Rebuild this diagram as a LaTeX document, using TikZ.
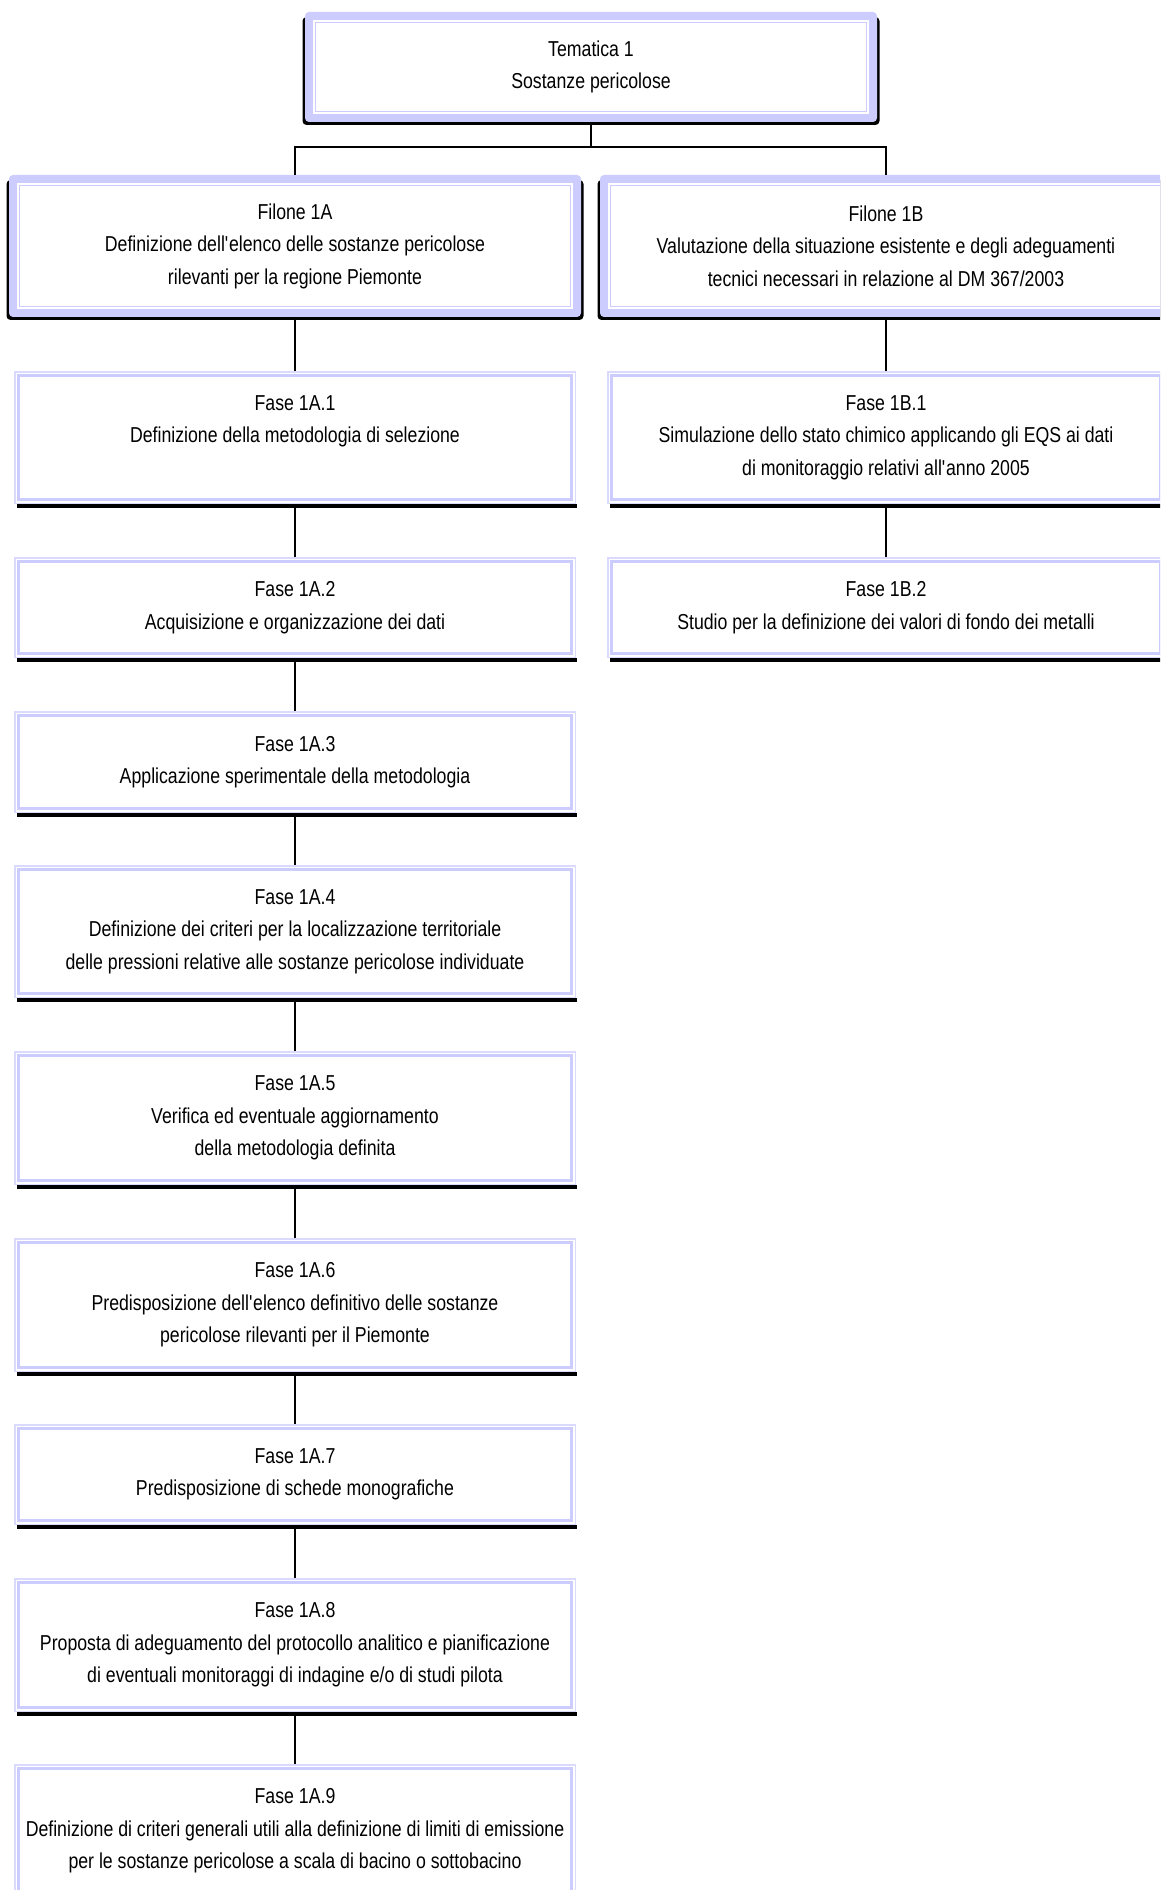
\documentclass[tikz,border=0pt]{standalone}
\usepackage{fontspec}
\setmainfont{Liberation Sans}[FakeStretch=0.82]
\definecolor{lav}{HTML}{CCCCFF}
\definecolor{lavl}{HTML}{DADAFF}
\newcommand\ap{\textquotesingle}
\tikzset{
  txt/.style={align=center, inner sep=0pt, font=\fontsize{16.2pt}{24.4pt}\selectfont},
  conn/.style={draw=black, line width=1pt},
  boxshape/.style={rectangle, inner sep=0pt, outer sep=0pt},
}
% name x1 y1 x2 y2 textshift text
\newcommand\fasebox[7]{%
  \fill[black] (#2+3,#5) rectangle (#4+1,#5+4);
  \fill[lavl] (#2,#3) rectangle (#4,#5);
  \fill[white] (#2+1.5,#3+1.5) rectangle (#4-1.5,#5-1.5);
  \fill[lav] (#2+3,#3+3) rectangle (#4-3,#5-3);
  \fill[white] (#2+6,#3+6) rectangle (#4-6,#5-6);
  \node[boxshape, minimum width={(#4-#2)*0.75pt}, minimum height={(#5-#3)*0.75pt}] (#1) at ({(#2+#4)/2},{(#3+#5)/2}) {};
  \node[txt] (#1-t) at ({(#2+#4)/2},{(#3+#5)/2+(#6)}) {#7};
}
% name x1 y1 x2 y2 text
\newcommand\filbox[6]{%
  \fill[black, rounded corners=3pt] (#2-2.5,#3+5) rectangle (#4+2.5,#5+3);
  \fill[lav, rounded corners=3pt] (#2,#3) rectangle (#4,#5);
  \fill[white] (#2+8,#3+8) rectangle (#4-8,#5-8);
  \draw[lav, line width=1.3pt] (#2+10.5,#3+10.5) rectangle (#4-10.5,#5-10.5);
  \node[boxshape, minimum width={(#4-#2)*0.75pt}, minimum height={(#5-#3)*0.75pt}] (#1) at ({(#2+#4)/2},{(#3+#5)/2}) {};
  \node[txt] (#1-t) at ({(#2+#4)/2},{(#3+#5)/2}) {#6};
}
\begin{document}
\begin{tikzpicture}[x=0.75pt,y=-0.75pt]
\useasboundingbox (0,0) rectangle (1160,1890);
\clip (0,0) rectangle (1160,1890);
\fill[white] (0,0) rectangle (1160,1890);

\filbox{top}{305}{12}{877}{122}{Tematica 1\\Sostanze pericolose}
\filbox{f1a}{9}{175}{581}{317}{Filone 1A\\Definizione dell\ap elenco delle sostanze pericolose\\rilevanti per la regione Piemonte}
\filbox{f1b}{600}{175}{1172}{317}{Filone 1B\\Valutazione della situazione esistente e degli adeguamenti\\tecnici necessari in relazione al DM 367/2003}

\fasebox{a1}{14}{371}{576}{504}{-16}{Fase 1A.1\\Definizione della metodologia di selezione}
\fasebox{b1}{607}{371}{1165}{504}{0}{Fase 1B.1\\Simulazione dello stato chimico applicando gli EQS ai dati\\di monitoraggio relativi all\ap anno 2005}
\fasebox{a2}{14}{557}{576}{658}{0}{Fase 1A.2\\Acquisizione e organizzazione dei dati}
\fasebox{b2}{607}{557}{1165}{658}{0}{Fase 1B.2\\Studio per la definizione dei valori di fondo dei metalli}
\fasebox{a3}{14}{711}{576}{813}{0}{Fase 1A.3\\Applicazione sperimentale della metodologia}
\fasebox{a4}{14}{865}{576}{998}{0}{Fase 1A.4\\Definizione dei criteri per la localizzazione territoriale\\delle pressioni relative alle sostanze pericolose individuate}
\fasebox{a5}{14}{1051}{576}{1185}{0}{Fase 1A.5\\Verifica ed eventuale aggiornamento\\della metodologia definita}
\fasebox{a6}{14}{1238}{576}{1372}{0}{Fase 1A.6\\Predisposizione dell\ap elenco definitivo delle sostanze\\pericolose rilevanti per il Piemonte}
\fasebox{a7}{14}{1424}{576}{1525}{0}{Fase 1A.7\\Predisposizione di schede monografiche}
\fasebox{a8}{14}{1578}{576}{1712}{0}{Fase 1A.8\\Proposta di adeguamento del protocollo analitico e pianificazione\\di eventuali monitoraggi di indagine e/o di studi pilota}
\fasebox{a9}{14}{1764}{576}{1898}{0}{Fase 1A.9\\Definizione di criteri generali utili alla definizione di limiti di emissione\\per le sostanze pericolose a scala di bacino o sottobacino}

\coordinate (split) at (591,147);
\draw[conn] (top.south) -- (split);
\draw[conn] (split) -| (f1a.north);
\draw[conn] (split) -| (f1b.north);
\draw[conn] (f1a.south) -- (a1.north);
\draw[conn] (f1b.south) -- (b1.north);
\draw[conn] (b1.south) -- (b2.north);
\draw[conn] (a1.south) -- (a2.north);
\draw[conn] (a2.south) -- (a3.north);
\draw[conn] (a3.south) -- (a4.north);
\draw[conn] (a4.south) -- (a5.north);
\draw[conn] (a5.south) -- (a6.north);
\draw[conn] (a6.south) -- (a7.north);
\draw[conn] (a7.south) -- (a8.north);
\draw[conn] (a8.south) -- (a9.north);
\end{tikzpicture}
\end{document}
